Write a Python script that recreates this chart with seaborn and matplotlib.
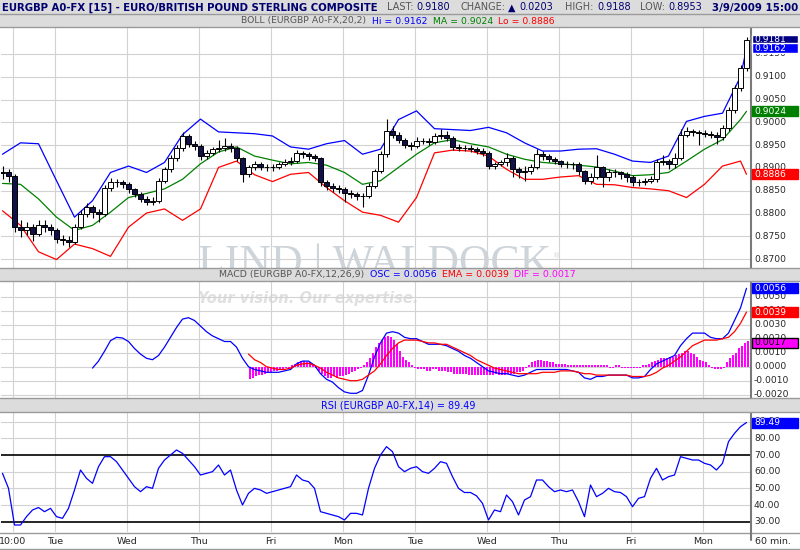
import numpy as np
import pandas as pd
import seaborn as sns
import matplotlib.pyplot as plt
from matplotlib.patches import Rectangle

# EURGBP, 2-hour candles (prices in pips, 1 pip = 0.0001)
first_open = 8888
close_pips = [8890, 8883, 8770, 8763, 8770, 8756, 8774, 8770, 8763, 8745,
              8741, 8738, 8770, 8799, 8814, 8803, 8799, 8857, 8868, 8868,
              8864, 8853, 8843, 8832, 8825, 8828, 8872, 8897, 8922, 8944,
              8970, 8953, 8948, 8926, 8933, 8941, 8944, 8948, 8944, 8922,
              8886, 8901, 8908, 8902, 8901, 8902, 8908, 8912, 8915, 8933,
              8930, 8926, 8922, 8868, 8861, 8857, 8853, 8846, 8843, 8839,
              8839, 8861, 8893, 8930, 8980, 8973, 8962, 8951, 8948, 8959,
              8960, 8957, 8970, 8973, 8966, 8946, 8944, 8943, 8941, 8938,
              8933, 8904, 8909, 8912, 8922, 8897, 8890, 8893, 8901, 8930,
              8926, 8919, 8915, 8909, 8908, 8908, 8893, 8872, 8879, 8901,
              8879, 8890, 8890, 8886, 8879, 8868, 8868, 8872, 8875, 8912,
              8915, 8908, 8922, 8973, 8980, 8979, 8977, 8975, 8973, 8967,
              8988, 9028, 9075, 9118, 9180]
high_pips = [8905, 8898, 8886, 8785, 8782, 8778, 8785, 8786, 8778, 8768,
             8752, 8750, 8778, 8808, 8822, 8818, 8810, 8862, 8878, 8876,
             8874, 8868, 8857, 8848, 8838, 8836, 8878, 8902, 8928, 8950,
             8978, 8975, 8958, 8952, 8940, 8946, 8962, 8965, 8955, 8948,
             8925, 8906, 8915, 8912, 8908, 8908, 8914, 8920, 8924, 8940,
             8938, 8934, 8930, 8925, 8874, 8866, 8862, 8858, 8852, 8848,
             8846, 8866, 8898, 8937, 9008, 8992, 8978, 8966, 8956, 8968,
             8966, 8965, 8977, 8985, 8980, 8970, 8952, 8950, 8950, 8946,
             8944, 8936, 8914, 8918, 8932, 8926, 8902, 8905, 8908, 8942,
             8936, 8930, 8925, 8918, 8915, 8914, 8912, 8896, 8888, 8928,
             8905, 8897, 8898, 8894, 8890, 8884, 8875, 8878, 8882, 8920,
             8928, 8920, 8932, 8985, 8990, 8986, 8984, 8984, 8982, 8978,
             8994, 9034, 9082, 9125, 9188]
low_pips = [8875, 8870, 8760, 8748, 8752, 8740, 8750, 8760, 8752, 8735,
            8730, 8727, 8733, 8765, 8792, 8790, 8782, 8795, 8850, 8858,
            8856, 8846, 8836, 8825, 8818, 8818, 8824, 8866, 8890, 8915,
            8938, 8946, 8940, 8918, 8920, 8928, 8935, 8936, 8935, 8915,
            8868, 8880, 8895, 8895, 8893, 8894, 8898, 8904, 8906, 8910,
            8922, 8918, 8915, 8860, 8852, 8848, 8845, 8825, 8835, 8830,
            8815, 8835, 8855, 8888, 8925, 8965, 8955, 8944, 8940, 8944,
            8952, 8950, 8952, 8964, 8958, 8940, 8937, 8936, 8934, 8930,
            8926, 8898, 8898, 8904, 8905, 8880, 8878, 8872, 8886, 8898,
            8918, 8912, 8908, 8902, 8900, 8898, 8884, 8864, 8865, 8875,
            8858, 8872, 8880, 8876, 8870, 8860, 8860, 8863, 8866, 8870,
            8906, 8898, 8900, 8918, 8968, 8970, 8950, 8968, 8966, 8953,
            8962, 8982, 9020, 9068, 9112]

# Bollinger (20,2), read at every 3rd candle plus the last one
boll_hi = [8930, 8955, 8953, 8872, 8792, 8828, 8890, 8904, 8890, 8912,
           8973, 9007, 8979, 8977, 8975, 8970, 8946, 8941, 8953, 8960,
           8930, 8941, 9006, 9025, 8986, 8984, 8982, 8989, 8977, 8955,
           8937, 8937, 8941, 8942, 8930, 8915, 8912, 8926, 9002, 9013,
           9020, 9100, 9162]
boll_ma = [8866, 8864, 8832, 8792, 8763, 8774, 8803, 8835, 8844, 8854,
           8875, 8909, 8935, 8946, 8926, 8917, 8909, 8912, 8906, 8890,
           8864, 8872, 8901, 8930, 8955, 8962, 8953, 8946, 8930, 8919,
           8912, 8909, 8906, 8902, 8893, 8883, 8885, 8890, 8915, 8941,
           8962, 9006, 9024]
boll_lo = [8806, 8774, 8716, 8699, 8733, 8723, 8706, 8770, 8801, 8810,
           8785, 8810, 8901, 8915, 8885, 8870, 8886, 8890, 8857, 8828,
           8803, 8796, 8781, 8835, 8933, 8939, 8937, 8926, 8897, 8875,
           8875, 8880, 8883, 8864, 8863, 8857, 8854, 8850, 8835, 8864,
           8904, 8915, 8886]

# MACD (12,26,9) in units of 0.0001
osc_first_candle = 15
macd_osc = [-1, 4, 11, 18.6, 21, 20.5, 18, 13, 9, 6,
            5, 8, 14, 21, 28, 34, 35, 33, 29, 25,
            22, 20, 18, 18, 14, 6, 0, -2, -3, -4,
            -4, -4, -3, -2, 2, 4, 4, 1, -5, -9,
            -11, -15, -18, -19, -19, -17, -6, 7, 17, 24,
            25, 24, 21, 20, 20, 18, 16, 16, 16, 15,
            13, 11, 8, 6, 3, 0, -3, -4, -5, -5,
            -6, -7, -6, -4, -2, -2, -2, -2, -2, -2,
            -3, -4, -8, -9, -7, -7, -6, -6, -6, -6,
            -8, -8, -7, -2, 2, 4, 6, 8, 15, 20,
            24, 24, 24, 21, 20, 20, 24, 33, 42, 56]
ema_first_candle = 41
macd_ema = [9, 5, 3, 0, -1, -2, -2, -1, 1, 2,
            2.4, 1, -1, -4, -6, -8, -9, -10, -10, -9,
            -6, -3, 2, 8, 13, 17, 19, 19, 19, 18,
            17, 17, 16, 16, 14, 12, 10, 8, 5, 3,
            1, -1, -2, -3, -4, -5, -5, -5, -5, -4,
            -4, -4, -3, -3, -3, -4, -5, -5, -6, -6,
            -6, -6, -6, -6, -7, -7, -7, -6, -4, -1,
            1, 4, 7, 11, 15, 17, 19, 19, 19, 20,
            21, 25, 31, 39]
dif_first_hour = 83
macd_dif = [-9, -8, -7, -6, -6, -5, -4, -4, -3, -3,
            -2, -2, -1, -1, 1, 2, 3, 4, 4, 3,
            3, 1, -1, -3, -5, -7, -8, -8, -7, -8,
            -7, -7, -6, -5, -4, -3, -2, -1, 1, 3,
            6, 10, 14, 17, 19, 21, 22, 21, 19, 16,
            11, 7, 5, 3, 1, -1, -2, -2, -2, -3,
            -3, -2, -2, -3, -3, -3, -4, -4, -5, -5,
            -5, -5, -5, -6, -6, -6, -6, -6, -6, -6,
            -6, -6, -5, -6, -6, -6, -5, -5, -5, -4,
            -4, -3, -1, 1, 3, 4, 5, 5, 4, 4,
            3, 3, 2, 2, 2, 2, 1, 1, 1, 1,
            1, 1, 1, 1, 1, 1, 1, 1, 1, 1,
            -1, -1, 1, 1, -1, -1, -1, -1, -1, -1,
            -1, 1, 1, 2, 3, 4, 5, 6, 6, 6,
            7, 7, 8, 9, 10, 11, 11, 10, 9, 7,
            5, 4, 3, 1, -1, -2, -2, -2, -1, 3,
            6, 8, 10, 13, 15, 17, 18]

# RSI (14), one value per candle
rsi = [59, 50, 28, 28, 33, 37, 38.5, 36, 38, 33,
       32, 38, 49, 61, 56, 53, 63, 69, 69, 66,
       61, 56, 51, 48, 51, 50, 62, 67, 70, 73,
       71, 67, 63, 58, 59, 60, 64, 58, 61, 49,
       40, 47, 50, 49, 47, 48, 49, 50, 51, 58,
       55, 54, 50, 36, 35, 34, 33, 31, 35, 35,
       34, 50, 62, 70, 75, 72, 63, 60, 62, 63,
       60, 59, 62, 66, 65, 57, 50, 47.5, 47.5, 45.5,
       41, 31, 37, 36, 46, 42, 34, 43, 45, 55,
       55, 51, 48, 49, 48, 49, 42, 33, 52, 45,
       47, 50, 48, 47.5, 45, 39, 44, 45, 56, 62,
       55, 57, 58, 69, 68, 67, 67, 65, 64, 61,
       65, 78, 83, 87, 89.49]

day_hours = [4, 18, 42, 66, 90, 114, 138, 162, 186, 210, 234]
day_labels = ['10:00', 'Tue', 'Wed', 'Thu', 'Fri', 'Mon',
              'Tue', 'Wed', 'Thu', 'Fri', 'Mon']
price_levels = [0.870, 0.875, 0.880, 0.885, 0.890, 0.895, 0.900, 0.905, 0.910, 0.915]
macd_levels = [-0.002, -0.001, 0.0, 0.001, 0.002, 0.003, 0.004, 0.005]
rsi_levels = [30, 40, 50, 60, 70, 80, 90]

sns.set_style("white")
plt.rcParams['font.family'] = ['DejaVu Sans']

W, H = 800, 550
fig = plt.figure(figsize=(8, 5.5), dpi=100)


def px_axes(x0, y0, x1, y1):
    return fig.add_axes([x0 / W, 1 - y1 / H, (x1 - x0) / W, (y1 - y0) / H])


ax_p = px_axes(1, 28, 751, 268)
ax_m = px_axes(1, 282, 751, 398)
ax_r = px_axes(1, 412, 751, 532)
ov = fig.add_axes([0, 0, 1, 1])
ov.set_xlim(0, W)
ov.set_ylim(H, 0)
ov.axis('off')
ov.patch.set_alpha(0)

grid_c = '#d2d2d2'
for ax in (ax_p, ax_m, ax_r):
    ax.set_xlim(0, 250)
    ax.set_xticks(day_hours)
    ax.tick_params(length=0, labelleft=False, labelbottom=False)
    ax.grid(True, color=grid_c, lw=0.8)
    ax.set_axisbelow(True)
    for s in ax.spines.values():
        s.set_visible(False)
    ax.spines['right'].set_visible(True)
    ax.spines['right'].set_color('#7a7a7a')
    ax.spines['right'].set_linewidth(1.5)

# ---- price panel ----
c = np.array(close_pips) / 1e4
o = np.array([first_open] + close_pips[:-1]) / 1e4
hi = np.array(high_pips) / 1e4
lo = np.array(low_pips) / 1e4
candle_h = np.arange(len(c)) * 2 + 0.5
band_k = list(range(0, len(c), 3)) + [len(c) - 1]
bands = pd.DataFrame({'h': np.array(band_k) * 2 + 0.5,
                      'hi': np.array(boll_hi) / 1e4,
                      'ma': np.array(boll_ma) / 1e4,
                      'lo': np.array(boll_lo) / 1e4})

ax_p.set_ylim(0.86805, 0.92068)
ax_p.set_yticks(price_levels)
sns.lineplot(data=bands, x='h', y='hi', ax=ax_p, color='#0000ff', lw=0.9, zorder=2)
sns.lineplot(data=bands, x='h', y='ma', ax=ax_p, color='#008000', lw=0.9, zorder=2)
sns.lineplot(data=bands, x='h', y='lo', ax=ax_p, color='#ff0000', lw=0.9, zorder=2)
ax_p.vlines(candle_h, lo, hi, color='black', lw=0.8, zorder=3)
ax_p.bar(candle_h, c - o, bottom=o, width=1.4,
         color=np.where(c >= o, 'white', '#10104a'), edgecolor='black', lw=0.7, zorder=4)

# ---- MACD panel ----
osc_h = (osc_first_candle + np.arange(len(macd_osc))) * 2 + 0.5
ema_h = (ema_first_candle + np.arange(len(macd_ema))) * 2 + 0.5
dif_h = dif_first_hour + np.arange(len(macd_dif))
ax_m.set_ylim(-0.002236, 0.00605)
ax_m.set_yticks(macd_levels)
ax_m.bar(dif_h, np.array(macd_dif) / 1e4, width=0.75, color='#ff00ff', lw=0, zorder=2)
sns.lineplot(x=osc_h, y=np.array(macd_osc) / 1e4, ax=ax_m, color='#0000ff', lw=0.9, zorder=3)
sns.lineplot(x=ema_h, y=np.array(macd_ema) / 1e4, ax=ax_m, color='#ff0000', lw=0.9, zorder=3)

# ---- RSI panel ----
ax_r.set_ylim(23.8, 95.8)
ax_r.set_yticks([40, 50, 60, 80, 90])
ax_r.axhline(70, color='black', lw=1.2, zorder=2)
ax_r.axhline(30, color='black', lw=1.2, zorder=2)
sns.lineplot(x=candle_h, y=rsi, ax=ax_r, color='#0000ff', lw=0.9, zorder=3)

for ax in (ax_p, ax_m, ax_r):
    ax.set_xlim(0, 250)
    ax.set_xlabel('')
    ax.set_ylabel('')

fig.canvas.draw()
rend = fig.canvas.get_renderer()


def py(ax, v):
    return H - ax.transData.transform((0, v))[1]


def px(ax, h):
    return ax.transData.transform((h, 0))[0]


def row(x0, x1, y, pieces, weight='normal', style='normal', family='DejaVu Sans',
        ax=None, z=5, va='center'):
    # pieces: (text, colour, gap after); one common font size fitted to x0..x1
    ts = []
    for s, col, gap in pieces:
        t = (ax or ov).text(0, y, s, color=col, fontweight=weight, fontstyle=style,
                            family=family, fontsize=8, va=va, ha='left',
                            transform=ov.transData, zorder=z)
        ts.append((t, t.get_window_extent(rend).width, gap))
    gaps = sum(g for _, _, g in ts[:-1])
    k = (x1 - x0 - gaps) / sum(w for _, w, _ in ts)
    x = x0
    for t, w, gap in ts:
        t.set_fontsize(8 * k)
        t.set_x(x)
        x += w * k + gap
    return ts


# header bands
band_c = '#dcdcdc'
for y0, y1 in [(0, 14), (14, 27), (268, 281), (398, 412)]:
    ov.add_patch(Rectangle((0, y0), W, y1 - y0, fc=band_c, ec='none', zorder=1))
for y in [14, 27, 268, 281, 398, 412, 533, 549]:
    ov.plot([0, W], [y, y], color='#9a9a9a', lw=1, zorder=2)
ov.plot([751, 751], [533, 540], color='#7a7a7a', lw=1.5)

navy = '#000070'
gray = '#555555'
row(2, 378, 7.5, [('EURGBP A0-FX [15] - EURO/BRITISH POUND STERLING COMPOSITE', navy, 0)],
    weight='bold')
row(387, 702, 7.5, [('LAST:', gray, 3), ('0.9180', navy, 10), ('CHANGE:', gray, 3),
                    ('\u25b2', navy, 4), ('0.0203', navy, 11), ('HIGH:', gray, 4),
                    ('0.9188', navy, 9), ('LOW:', gray, 3), ('0.8953', navy, 0)])
row(712, 798, 7.5, [('3/9/2009 15:00', navy, 0)], weight='bold')

row(241, 555, 21, [('BOLL (EURGBP A0-FX,20,2)', gray, 5), ('Hi = 0.9162', '#0000ff', 5),
                   ('MA = 0.9024', '#008000', 4), ('Lo = 0.8886', '#ff0000', 0)])
row(219, 576, 274.5, [('MACD (EURGBP A0-FX,12,26,9)', gray, 4), ('OSC = 0.0056', '#0000ff', 5),
                      ('EMA = 0.0039', '#ff0000', 5), ('DIF = 0.0017', '#ff00ff', 0)])
row(321, 475, 405, [('RSI (EURGBP A0-FX,14) = 89.49', '#0000ff', 0)])

# watermarks
row(198, 552, 275, [('LIND | WALDOCK', '#cdd4da', 0)], family='Liberation Serif',
    ax=ax_p, z=0.5, va='baseline')
row(553, 560, 256, [('\u00ae', '#cdd4da', 0)], ax=ax_p, z=0.5)
row(198, 420, 298, [('Your vision. Our expertise.', '#e0e0e0', 0)], weight='bold',
    style='italic', ax=ax_m, z=0.5)

# right axis labels
lab_fs = 6.6
for v in price_levels:
    ov.text(754, py(ax_p, v), f'{v:.4f}', fontsize=lab_fs, va='center', zorder=3)
for v in macd_levels:
    ov.text(754, py(ax_m, v), f'{v:.4f}', fontsize=lab_fs, va='center', zorder=3)
for v in rsi_levels:
    ov.text(754, py(ax_r, v), f'{v:.2f}', fontsize=lab_fs, va='center', zorder=3)


def tag(ax, v, s, fc, tc='white', ec=None):
    y = py(ax, v)
    ov.add_patch(Rectangle((752, y - 5), 46, 10, fc=fc, ec=ec or fc, lw=1, zorder=4))
    ov.text(754, y, s, color=tc, fontsize=lab_fs, va='center', zorder=5)


tag(ax_p, 0.9181, '0.9181', '#000080', ec='white')
tag(ax_p, 0.9162, '0.9162', '#0000ff', ec='white')
tag(ax_p, 0.9024, '0.9024', '#008000')
tag(ax_p, 0.8886, '0.8886', '#ff0000')
tag(ax_m, 0.0056, '0.0056', '#0000ff')
tag(ax_m, 0.0039, '0.0039', '#ff0000')
tag(ax_m, 0.0017, '0.0017', '#ff00ff', tc='black', ec='black')
tag(ax_r, 89.49, '89.49', '#0000ff')

# time axis labels
for hr, lab in zip(day_hours, day_labels):
    ov.text(px(ax_r, hr), 542, lab, fontsize=6.8, ha='center', va='center')
ov.text(755, 542, '60 min.', fontsize=6.8, va='center')

fig.savefig('out.png', dpi=100)
